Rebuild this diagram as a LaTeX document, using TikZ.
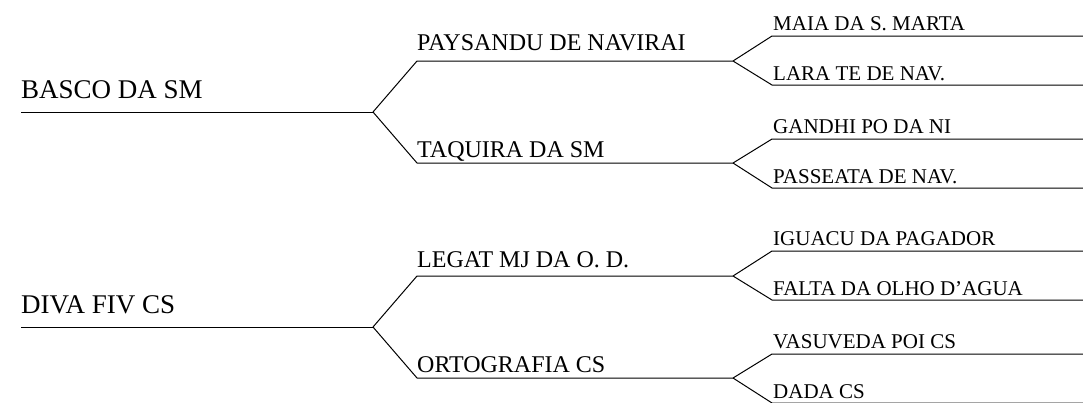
\documentclass[tikz,border=0pt]{standalone}
\usepackage{fontspec}
\setmainfont{Liberation Serif}
\begin{document}
\begin{tikzpicture}[x=1pt,y=-1pt,
  tree/.style={draw=black, line width=1pt, line join=miter},
  lvA/.style={anchor=base west, inner sep=0pt, font=\fontsize{27}{32}\selectfont},
  lvB/.style={anchor=base west, inner sep=0pt, font=\fontsize{24}{28}\selectfont},
  lvC/.style={anchor=base west, inner sep=0pt, font=\fontsize{21}{24}\selectfont}]
\useasboundingbox (0,0) rectangle (1083,402);

% ---------- group 1 ----------
\coordinate (r1s) at (21,112);  \coordinate (r1v) at (373,112);
\coordinate (p1s) at (417,61);  \coordinate (p1v) at (733,61);
\coordinate (p2s) at (417,163); \coordinate (p2v) at (733,163);
\coordinate (g1s) at (772,36);  \coordinate (g1e) at (1083,36);
\coordinate (g2s) at (772,85);  \coordinate (g2e) at (1083,85);
\coordinate (g3s) at (772,139); \coordinate (g3e) at (1083,139);
\coordinate (g4s) at (772,188); \coordinate (g4e) at (1083,188);

\node[lvA] (basco) at (21,98) {BASCO DA SM};
\node[lvB] (paysandu) at (417,50) {PAYSANDU DE NAVIRAI};
\node[lvB] (taquira) at (417,157) {TAQUIRA DA SM};
\node[lvC] (maia) at (773,30) {MAIA DA S. MARTA};
\node[lvC] (lara) at (773,80) {LARA TE DE NAV.};
\node[lvC] (gandhi) at (773,133) {GANDHI PO DA NI};
\node[lvC] (passeata) at (773,183) {PASSEATA DE NAV.};

\draw[tree] (r1s) -- (r1v);
\draw[tree] (r1v) -- (p1s) -- (p1v);
\draw[tree] (r1v) -- (p2s) -- (p2v);
\draw[tree] (p1v) -- (g1s) -- (g1e);
\draw[tree] (p1v) -- (g2s) -- (g2e);
\draw[tree] (p2v) -- (g3s) -- (g3e);
\draw[tree] (p2v) -- (g4s) -- (g4e);

% ---------- group 2 ----------
\coordinate (r2s) at (21,327);  \coordinate (r2v) at (373,327);
\coordinate (p3s) at (417,276); \coordinate (p3v) at (733,276);
\coordinate (p4s) at (417,378); \coordinate (p4v) at (733,378);
\coordinate (g5s) at (772,251); \coordinate (g5e) at (1083,251);
\coordinate (g6s) at (772,300); \coordinate (g6e) at (1083,300);
\coordinate (g7s) at (772,354); \coordinate (g7e) at (1083,354);
\coordinate (g8s) at (772,403); \coordinate (g8e) at (1083,403);

\node[lvA] (diva) at (21,313) {DIVA FIV CS};
\node[lvB] (legat) at (417,267) {LEGAT MJ DA O. D.};
\node[lvB] (ortografia) at (417,372) {ORTOGRAFIA CS};
\node[lvC] (iguacu) at (773,245) {IGUACU DA PAGADOR};
\node[lvC] (falta) at (773,295) {FALTA DA OLHO D’AGUA};
\node[lvC] (vasuveda) at (773,348) {VASUVEDA POI CS};
\node[lvC] (dada) at (773,398) {DADA CS};

\draw[tree] (r2s) -- (r2v);
\draw[tree] (r2v) -- (p3s) -- (p3v);
\draw[tree] (r2v) -- (p4s) -- (p4v);
\draw[tree] (p3v) -- (g5s) -- (g5e);
\draw[tree] (p3v) -- (g6s) -- (g6e);
\draw[tree] (p4v) -- (g7s) -- (g7e);
\draw[tree] (p4v) -- (g8s) -- (g8e);
\end{tikzpicture}
\end{document}
